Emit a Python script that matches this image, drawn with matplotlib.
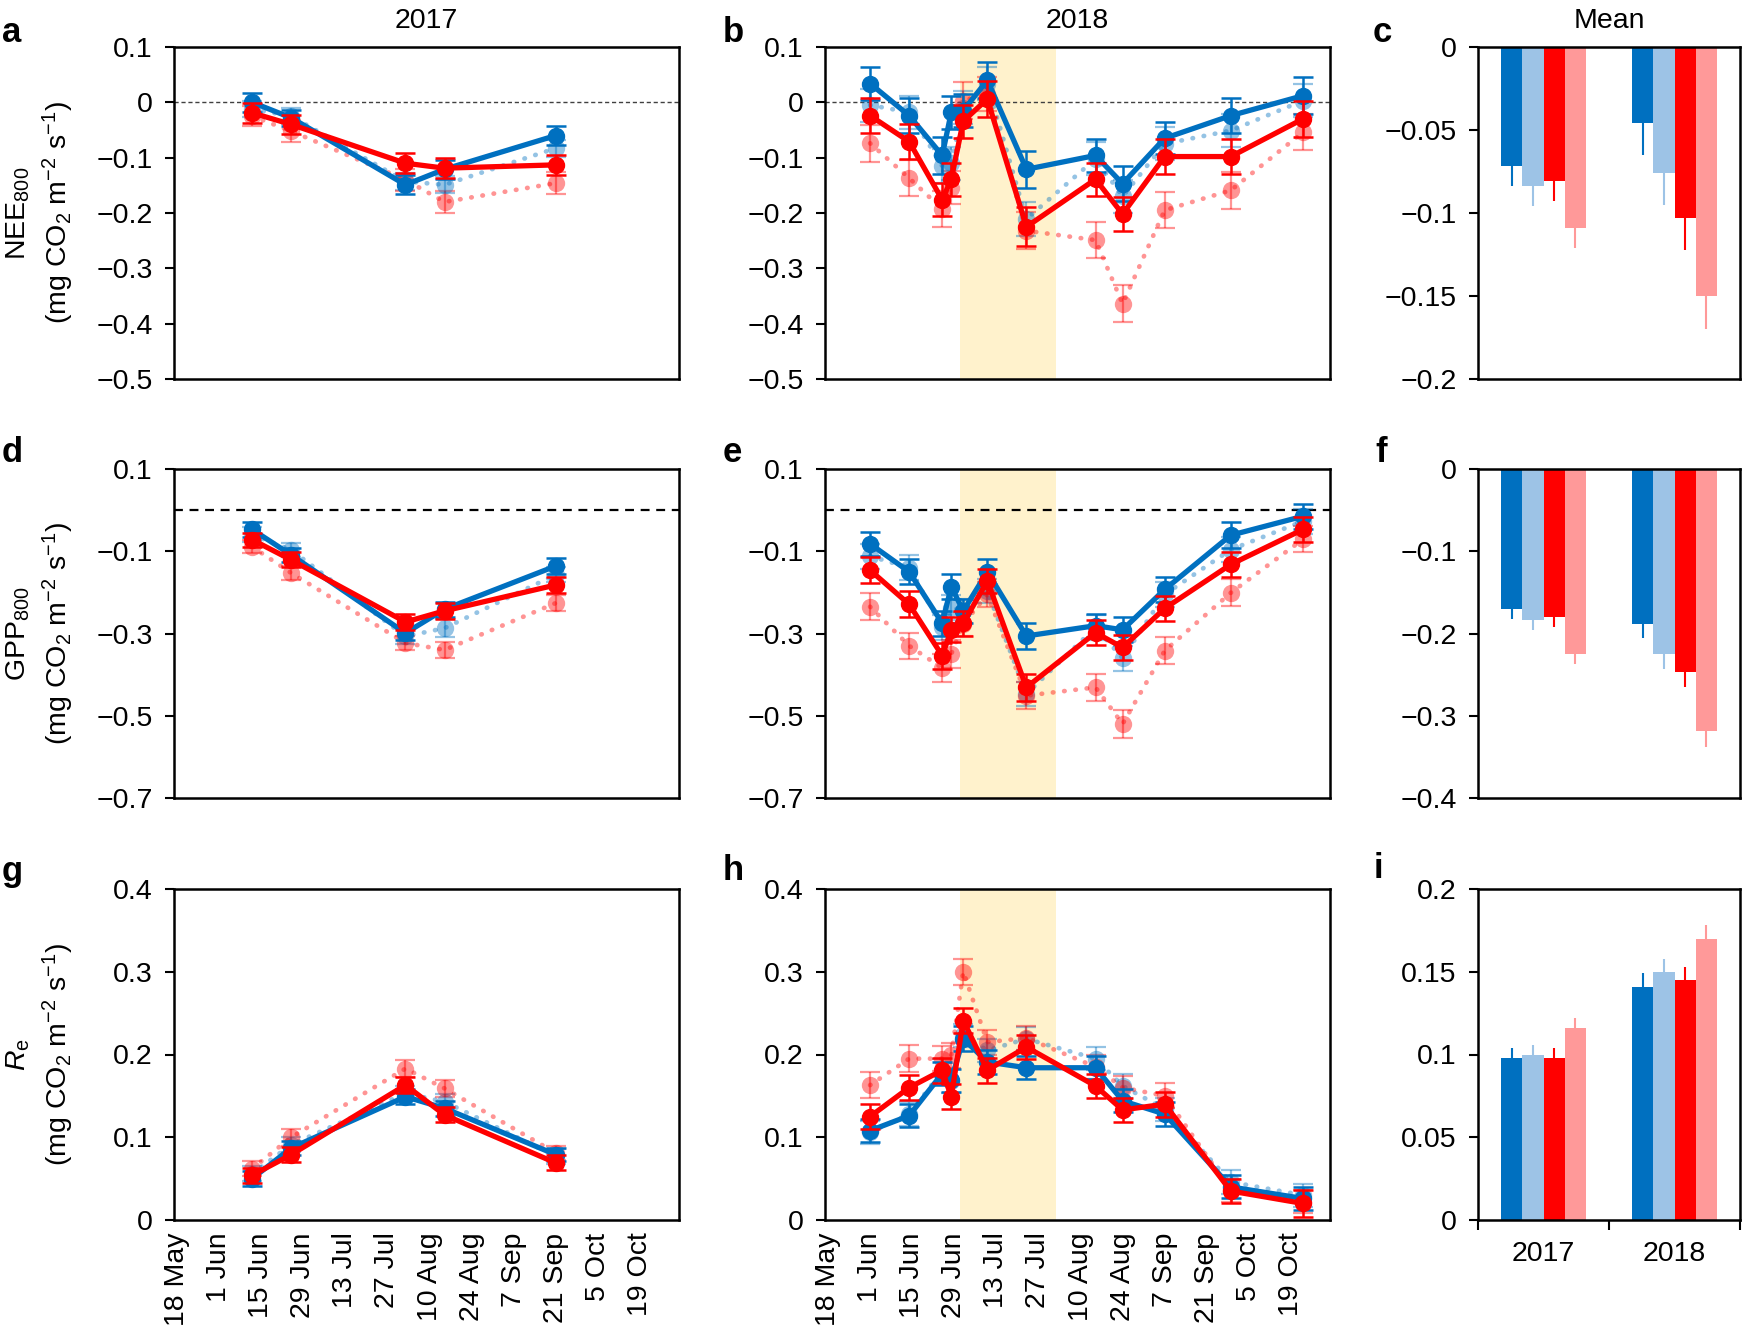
import numpy as np
import matplotlib
matplotlib.use("Agg")
import matplotlib.pyplot as plt
from matplotlib.ticker import FuncFormatter

plt.rcParams['font.family'] = ['Liberation Sans', 'DejaVu Sans']
plt.rcParams['mathtext.fontset'] = 'custom'
plt.rcParams['mathtext.rm'] = 'Liberation Sans'
plt.rcParams['mathtext.it'] = 'Liberation Sans:italic'
plt.rcParams['mathtext.default'] = 'regular'

# sampling dates
dates17 = np.array(["2017-06-12", "2017-06-25", "2017-08-02", "2017-08-15", "2017-09-21"], dtype="datetime64[D]")
dates18 = np.array(["2018-06-01", "2018-06-14", "2018-06-25", "2018-06-28", "2018-07-02", "2018-07-10",
                    "2018-07-23", "2018-08-15", "2018-08-24", "2018-09-07", "2018-09-29", "2018-10-23"],
                   dtype="datetime64[D]")
drought18 = ["2018-07-01", "2018-08-02"]

# NEE800 2017
nee17_blue = [0.000, -0.028, -0.149, -0.121, -0.060]
nee17_blue_err = [0.017, 0.015, 0.017, 0.017, 0.018]
nee17_lblue = [-0.012, -0.025, -0.143, -0.149, -0.083]
nee17_lblue_err = [0.015, 0.015, 0.015, 0.015, 0.015]
nee17_red = [-0.019, -0.040, -0.110, -0.119, -0.113]
nee17_red_err = [0.018, 0.018, 0.018, 0.018, 0.018]
nee17_pink = [-0.025, -0.052, -0.140, -0.180, -0.146]
nee17_pink_err = [0.018, 0.020, 0.020, 0.020, 0.020]

# NEE800 2018
nee18_blue = [0.034, -0.024, -0.096, -0.018, -0.015, 0.040, -0.121, -0.096, -0.147, -0.065, -0.024, 0.012]
nee18_blue_err = [0.030, 0.032, 0.033, 0.030, 0.030, 0.032, 0.033, 0.030, 0.032, 0.029, 0.032, 0.033]
nee18_lblue = [-0.005, -0.018, -0.115, -0.110, -0.010, 0.034, -0.211, -0.102, -0.170, -0.075, -0.051, 0.003]
nee18_lblue_err = [0.030, 0.030, 0.030, 0.030, 0.030, 0.030, 0.030, 0.030, 0.030, 0.030, 0.030, 0.030]
nee18_red = [-0.024, -0.071, -0.176, -0.139, -0.034, 0.006, -0.225, -0.139, -0.202, -0.098, -0.098, -0.030]
nee18_red_err = [0.032, 0.032, 0.030, 0.030, 0.030, 0.032, 0.035, 0.030, 0.031, 0.032, 0.032, 0.033]
nee18_pink = [-0.074, -0.137, -0.193, -0.154, 0.003, 0.015, -0.232, -0.249, -0.364, -0.195, -0.159, -0.054]
nee18_pink_err = [0.033, 0.033, 0.033, 0.030, 0.033, 0.030, 0.033, 0.033, 0.033, 0.033, 0.033, 0.033]

# GPP800 2017
gpp17_blue = [-0.047, -0.109, -0.299, -0.241, -0.136]
gpp17_blue_err = [0.019, 0.018, 0.018, 0.018, 0.019]
gpp17_lblue = [-0.060, -0.097, -0.307, -0.287, -0.157]
gpp17_lblue_err = [0.018, 0.018, 0.018, 0.022, 0.018]
gpp17_red = [-0.072, -0.121, -0.272, -0.245, -0.182]
gpp17_red_err = [0.017, 0.018, 0.019, 0.019, 0.020]
gpp17_pink = [-0.089, -0.153, -0.323, -0.340, -0.226]
gpp17_pink_err = [0.016, 0.018, 0.018, 0.019, 0.020]

# GPP800 2018
gpp18_blue = [-0.082, -0.150, -0.275, -0.186, -0.245, -0.150, -0.306, -0.281, -0.291, -0.193, -0.061, -0.015]
gpp18_blue_err = [0.030, 0.030, 0.030, 0.030, 0.030, 0.030, 0.032, 0.028, 0.030, 0.030, 0.031, 0.030]
gpp18_lblue = [-0.112, -0.140, -0.285, -0.237, -0.245, -0.197, -0.447, -0.285, -0.360, -0.205, -0.096, -0.027]
gpp18_lblue_err = [0.030, 0.030, 0.030, 0.030, 0.030, 0.030, 0.030, 0.030, 0.030, 0.030, 0.030, 0.030]
gpp18_red = [-0.146, -0.229, -0.354, -0.291, -0.275, -0.172, -0.431, -0.298, -0.334, -0.239, -0.132, -0.047]
gpp18_red_err = [0.032, 0.032, 0.032, 0.030, 0.030, 0.030, 0.032, 0.030, 0.030, 0.030, 0.031, 0.031]
gpp18_pink = [-0.235, -0.330, -0.384, -0.350, -0.277, -0.205, -0.451, -0.431, -0.520, -0.342, -0.201, -0.071]
gpp18_pink_err = [0.033, 0.032, 0.034, 0.033, 0.030, 0.030, 0.032, 0.032, 0.033, 0.033, 0.033, 0.032]

# Re 2017
re17_blue = [0.050, 0.087, 0.149, 0.135, 0.079]
re17_blue_err = [0.009, 0.008, 0.009, 0.009, 0.008]
re17_lblue = [0.056, 0.091, 0.153, 0.143, 0.077]
re17_lblue_err = [0.009, 0.009, 0.009, 0.009, 0.009]
re17_red = [0.054, 0.079, 0.163, 0.127, 0.069]
re17_red_err = [0.009, 0.009, 0.010, 0.009, 0.009]
re17_pink = [0.062, 0.100, 0.183, 0.159, 0.081]
re17_pink_err = [0.009, 0.010, 0.010, 0.010, 0.009]

# Re 2018
re18_blue = [0.108, 0.126, 0.177, 0.169, 0.219, 0.191, 0.184, 0.184, 0.144, 0.128, 0.040, 0.026]
re18_blue_err = [0.014, 0.014, 0.014, 0.014, 0.015, 0.015, 0.014, 0.014, 0.014, 0.014, 0.014, 0.014]
re18_lblue = [0.106, 0.128, 0.180, 0.168, 0.223, 0.205, 0.219, 0.195, 0.162, 0.134, 0.046, 0.030]
re18_lblue_err = [0.014, 0.014, 0.014, 0.014, 0.014, 0.014, 0.014, 0.014, 0.014, 0.014, 0.014, 0.014]
re18_red = [0.125, 0.160, 0.181, 0.149, 0.241, 0.181, 0.209, 0.162, 0.133, 0.140, 0.035, 0.020]
re18_red_err = [0.015, 0.015, 0.015, 0.015, 0.015, 0.015, 0.015, 0.015, 0.014, 0.015, 0.015, 0.016]
re18_pink = [0.163, 0.195, 0.195, 0.199, 0.300, 0.215, 0.220, 0.185, 0.160, 0.150, 0.036, 0.022]
re18_pink_err = [0.016, 0.016, 0.015, 0.015, 0.016, 0.015, 0.014, 0.015, 0.014, 0.015, 0.014, 0.014]

# seasonal means (blue, light blue, red, pink)
years = ["2017", "2018"]
nee_mean17 = [-0.0716, -0.0837, -0.0806, -0.109]
nee_mean17_err = [0.0124, 0.0123, 0.0124, 0.0120]
nee_mean18 = [-0.0458, -0.076, -0.103, -0.150]
nee_mean18_err = [0.019, 0.019, 0.019, 0.020]
gpp_mean17 = [-0.170, -0.184, -0.180, -0.225]
gpp_mean17_err = [0.012, 0.012, 0.012, 0.012]
gpp_mean18 = [-0.188, -0.225, -0.247, -0.319]
gpp_mean18_err = [0.018, 0.018, 0.018, 0.019]
re_mean17 = [0.098, 0.100, 0.098, 0.116]
re_mean17_err = [0.006, 0.006, 0.006, 0.006]
re_mean18 = [0.141, 0.150, 0.145, 0.170]
re_mean18_err = [0.008, 0.008, 0.008, 0.008]

BLUE = '#0070C0'
RED = '#FF0000'
bar_colors = ['#0070C0', '#9DC3E6', '#FF0000', '#FF9999']

FS = 20.5
W, H = 1742, 1327
fig = plt.figure(figsize=(W / 100, H / 100), dpi=100)


def add_ax(x0, x1, y0, y1):
    return fig.add_axes([x0 / W, 1 - y1 / H, (x1 - x0) / W, (y1 - y0) / H])


cols = [(174, 679), (825, 1330), (1478, 1740)]
rows = [(47, 379), (469, 798), (889, 1220)]
axs = [[add_ax(c[0], c[1], r[0], r[1]) for c in cols] for r in rows]

fmt = FuncFormatter(lambda v, _: ("%g" % round(v, 3)).replace('-', '\u2212'))


def style(ax, yticks):
    ax.set_ylim(min(yticks), max(yticks))
    ax.set_yticks(yticks)
    ax.yaxis.set_major_formatter(fmt)
    for s in ax.spines.values():
        s.set_linewidth(1.8)
    ax.tick_params(axis='y', direction='out', length=6.5, width=1.5, labelsize=FS, pad=9)


def series(ax, x, y, e, color, light):
    if light:
        # mec='none' keeps the translucent dots flat; caps keep capthick
        ax.errorbar(x, y, yerr=e, color=color, alpha=0.42, ls=(0, (0.1, 2.3)), lw=3.4,
                    dash_capstyle='round', marker='o', ms=12.5, mec='none', capsize=7,
                    elinewidth=1.6, capthick=1.6, zorder=2)
    else:
        ax.errorbar(x, y, yerr=e, color=color, ls='-', lw=3.8, marker='o', ms=11.5,
                    capsize=7, elinewidth=1.8, capthick=1.8,
                    zorder=4 if color == RED else 3)


def date_axis(ax, year, labels):
    ax.set_xlim(np.datetime64(f"{year}-05-17"), np.datetime64(f"{year}-11-01"))
    ticks = np.arange(np.datetime64(f"{year}-05-18"), np.datetime64(f"{year}-10-20"), 14)
    ax.set_xticks(ticks)
    if labels:
        names = [f"{t.astype(object).day} {t.astype(object).strftime('%b')}" for t in ticks]
        ax.set_xticklabels(names, rotation=90, fontsize=FS)
        ax.tick_params(axis='x', length=0, pad=9)
    else:
        ax.tick_params(axis='x', length=0, labelbottom=False)


line_data = [
    (dates17, dates18,
     [(nee17_lblue, nee17_lblue_err, BLUE, True), (nee17_pink, nee17_pink_err, RED, True),
      (nee17_blue, nee17_blue_err, BLUE, False), (nee17_red, nee17_red_err, RED, False)],
     [(nee18_lblue, nee18_lblue_err, BLUE, True), (nee18_pink, nee18_pink_err, RED, True),
      (nee18_blue, nee18_blue_err, BLUE, False), (nee18_red, nee18_red_err, RED, False)]),
    (dates17, dates18,
     [(gpp17_lblue, gpp17_lblue_err, BLUE, True), (gpp17_pink, gpp17_pink_err, RED, True),
      (gpp17_blue, gpp17_blue_err, BLUE, False), (gpp17_red, gpp17_red_err, RED, False)],
     [(gpp18_lblue, gpp18_lblue_err, BLUE, True), (gpp18_pink, gpp18_pink_err, RED, True),
      (gpp18_blue, gpp18_blue_err, BLUE, False), (gpp18_red, gpp18_red_err, RED, False)]),
    (dates17, dates18,
     [(re17_lblue, re17_lblue_err, BLUE, True), (re17_pink, re17_pink_err, RED, True),
      (re17_blue, re17_blue_err, BLUE, False), (re17_red, re17_red_err, RED, False)],
     [(re18_lblue, re18_lblue_err, BLUE, True), (re18_pink, re18_pink_err, RED, True),
      (re18_blue, re18_blue_err, BLUE, False), (re18_red, re18_red_err, RED, False)]),
]
line_ticks = [[0.1, 0, -0.1, -0.2, -0.3, -0.4, -0.5],
              [0.1, -0.1, -0.3, -0.5, -0.7],
              [0, 0.1, 0.2, 0.3, 0.4]]
bar_ticks = [[0, -0.05, -0.1, -0.15, -0.2],
             [0, -0.1, -0.2, -0.3, -0.4],
             [0, 0.05, 0.1, 0.15, 0.2]]
bar_data = [(nee_mean17, nee_mean17_err, nee_mean18, nee_mean18_err),
            (gpp_mean17, gpp_mean17_err, gpp_mean18, gpp_mean18_err),
            (re_mean17, re_mean17_err, re_mean18, re_mean18_err)]
ylabels = ["NEE$_{800}$\n(mg CO$_2$ m$^{-2}$ s$^{-1}$)",
           "GPP$_{800}$\n(mg CO$_2$ m$^{-2}$ s$^{-1}$)",
           "$\\mathit{R}_\\mathrm{e}$\n(mg CO$_2$ m$^{-2}$ s$^{-1}$)"]

for r in range(3):
    d17, d18, s17, s18 = line_data[r]
    axa, axb, axc = axs[r]
    for ax, dates, ss, year in [(axa, d17, s17, 2017), (axb, d18, s18, 2018)]:
        for y, e, c, light in ss:
            series(ax, dates, y, e, c, light)
        style(ax, line_ticks[r])
        date_axis(ax, year, r == 2)
        if r == 0:
            ax.axhline(0, color='0.25', lw=1.0, ls=(0, (3, 2)), zorder=1)
        elif r == 1:
            ax.axhline(0, color='black', lw=1.6, ls=(0, (4, 3)), zorder=1)
    axb.axvspan(np.datetime64(drought18[0]), np.datetime64(drought18[1]), color='#FFF2CC', lw=0, zorder=0)
    axa.set_ylabel(ylabels[r], fontsize=FS, linespacing=1.3)
    axa.yaxis.set_label_coords(-0.195, 0.5)

    # mean bars
    m17, e17, m18, e18 = bar_data[r]
    w = 0.161
    offs = np.array([-1.5, -0.5, 0.5, 1.5]) * w
    for gi, (m, e) in enumerate([(m17, e17), (m18, e18)]):
        xs = gi + 0.5 + offs
        axc.bar(xs, m, width=w, color=bar_colors, lw=0, zorder=2)
        for k in range(4):
            lo, hi = (e[k], 0) if m[k] < 0 else (0, e[k])
            axc.errorbar(xs[k], m[k], yerr=[[lo], [hi]], color=bar_colors[k], lw=1.5,
                         capsize=0, fmt='none', zorder=1)
    axc.set_xlim(0, 2)
    style(axc, bar_ticks[r])
    if r == 2:
        axc.set_xticks([0, 1, 2])
        axc.set_xticklabels([])
        axc.set_xticks([0.5, 1.5], minor=True)
        axc.set_xticklabels(years, minor=True, fontsize=FS)
        axc.tick_params(axis='x', which='major', direction='out', length=7, width=1.5)
        axc.tick_params(axis='x', which='minor', length=0, pad=15)
    else:
        axc.set_xticks([])

axs[0][0].set_title("2017", fontsize=FS, pad=14)
axs[0][1].set_title("2018", fontsize=FS, pad=14)
axs[0][2].set_title("Mean", fontsize=FS, pad=14)

letters = [("a", 2, 32), ("b", 723, 32), ("c", 1373, 32),
           ("d", 2, 453), ("e", 723, 453), ("f", 1375, 452),
           ("g", 2, 872), ("h", 723, 870), ("i", 1374, 868)]
for t, x, y in letters:
    fig.text(x / W, 1 - y / H, t, fontsize=25, fontweight='bold', ha='left', va='center')

fig.savefig("out.png", dpi=100)
